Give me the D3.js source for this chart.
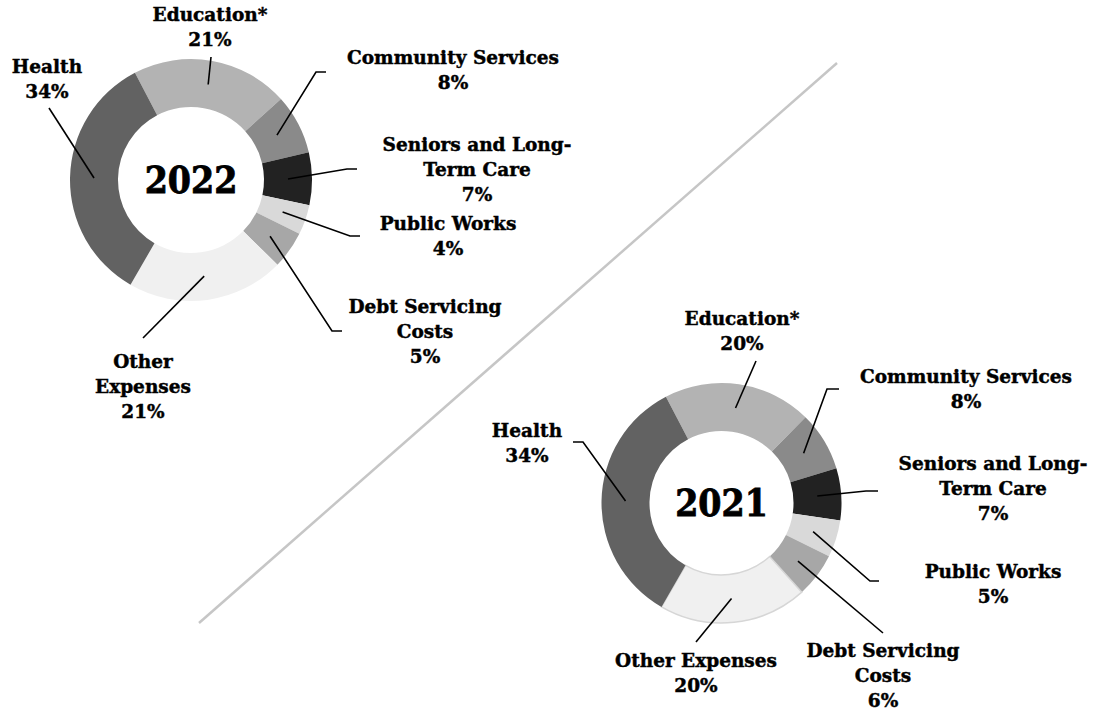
<!DOCTYPE html>
<html>
<head>
<meta charset="utf-8">
<script src="https://cdn.jsdelivr.net/npm/d3@7"></script>
<style>
  body { margin: 0; background: #fff; }
  svg text {
    font-family: "DejaVu Serif", serif;
    font-weight: bold;
    fill: #000;
    stroke: #000;
    stroke-width: 0.45px;
  }
  svg text.year {
    font-family: "DejaVu Serif Condensed", "DejaVu Serif", serif;
    font-stretch: condensed;
    stroke-width: 0.8px;
  }
</style>
</head>
<body>
<svg id="chart" width="1093" height="711"></svg>
<script>
// Spending categories, in the order the slices run clockwise
const categories = [
  "Education*",
  "Community Services",
  "Seniors and Long-Term Care",
  "Public Works",
  "Debt Servicing Costs",
  "Other Expenses",
  "Health"
];

// Share of total expenses (%)
const values2022 = [21, 8, 7, 4, 5, 21, 34];
const values2021 = [20, 8, 7, 5, 6, 20, 34];

const years = ["2022", "2021"];

// Greyscale fill for each category
const sliceColors = ["#b3b3b3", "#8a8a8a", "#222222", "#d9d9d9", "#a7a7a7", "#f0f0f0", "#626262"];

// How each category name wraps in its label
const labelLines2022 = [
  ["Education*"], ["Community Services"], ["Seniors and Long-", "Term Care"],
  ["Public Works"], ["Debt Servicing", "Costs"], ["Other", "Expenses"], ["Health"]
];
const labelLines2021 = [
  ["Education*"], ["Community Services"], ["Seniors and Long-", "Term Care"],
  ["Public Works"], ["Debt Servicing", "Costs"], ["Other Expenses"], ["Health"]
];

// Placement of each donut, its labels and leader-line bends
const layouts = {
  "2022": {
    cx: 191, cy: 180, rOuter: 121, rInner: 73,
    outline: false,
    labels: [
      { x: 210, y: 21,  path: [[211, 57]] },
      { x: 453, y: 64,  path: [[316, 72], [326, 72]] },
      { x: 477, y: 151, path: [[347, 169], [357, 169]] },
      { x: 448, y: 230, path: [[350, 236], [360, 236]] },
      { x: 425, y: 313, path: [[332, 331], [342, 331]] },
      { x: 143, y: 368, path: [[143, 338]] },
      { x: 47,  y: 73,  path: [[49, 108]] }
    ]
  },
  "2021": {
    cx: 721.5, cy: 503, rOuter: 120, rInner: 72,
    outline: true,
    labels: [
      { x: 742, y: 325, path: [[756, 361]] },
      { x: 966, y: 383, path: [[827, 389], [839, 389]] },
      { x: 993, y: 470, path: [[866, 491], [878, 491]] },
      { x: 993, y: 578, path: [[870, 581], [879, 581]] },
      { x: 883, y: 657, path: [[883, 633]] },
      { x: 696, y: 667, path: [[696, 642]] },
      { x: 527, y: 437, path: [[583, 442], [573, 442]] }
    ]
  }
};

const seriesByYear = { "2022": values2022, "2021": values2021 };
const linesByYear = { "2022": labelLines2022, "2021": labelLines2021 };

const svg = d3.select("#chart");

// Diagonal divider between the two years
svg.append("line")
  .attr("x1", 199).attr("y1", 623)
  .attr("x2", 837).attr("y2", 63)
  .attr("stroke", "#c6c6c6")
  .attr("stroke-width", 2.5);

const color = d3.scaleOrdinal().domain(categories).range(sliceColors);
const startAngle = -27.6 * Math.PI / 180;

const pie = d3.pie()
  .sort(null)
  .value(d => d.value)
  .startAngle(startAngle)
  .endAngle(startAngle + 2 * Math.PI);

years.forEach(year => {
  const L = layouts[year];
  const values = seriesByYear[year];
  const lines = linesByYear[year];
  const rows = categories.map((c, i) => ({ category: c, value: values[i], lines: lines[i], pos: L.labels[i] }));

  const arc = d3.arc().innerRadius(L.rInner).outerRadius(L.rOuter);
  const g = svg.append("g").attr("transform", `translate(${L.cx},${L.cy})`);
  const arcs = pie(rows);

  g.selectAll("path.slice")
    .data(arcs)
    .join("path")
    .attr("class", "slice")
    .attr("d", arc)
    .attr("fill", d => color(d.data.category))
    .attr("stroke", d => (L.outline && d.data.category === "Other Expenses") ? "#d6d6d6" : "none")
    .attr("stroke-width", 1.5);

  // Year in the hole
  g.append("text")
    .attr("class", "year")
    .attr("text-anchor", "middle")
    .attr("y", 13)
    .style("font-size", "37px")
    .text(year);

  // Leader lines from slice centre to the label
  const line = d3.line();
  svg.selectAll(null)
    .data(arcs)
    .join("path")
    .attr("d", d => {
      const c = arc.centroid(d);
      const pts = [[L.cx + c[0], L.cy + c[1]]].concat(d.data.pos.path);
      return line(pts);
    })
    .attr("fill", "none")
    .attr("stroke", "#000")
    .attr("stroke-width", 1.6);

  // Category labels with percentage
  const lbl = svg.selectAll(null)
    .data(arcs)
    .join("text")
    .attr("text-anchor", "middle")
    .style("font-size", "18.5px")
    .attr("x", d => d.data.pos.x)
    .attr("y", d => d.data.pos.y);

  lbl.each(function (d) {
    const t = d3.select(this);
    const all = d.data.lines.concat([`${d.data.value}%`]);
    all.forEach((s, k) => {
      t.append("tspan")
        .attr("x", d.data.pos.x)
        .attr("dy", k === 0 ? 0 : 25)
        .text(s);
    });
  });
});
</script>
</body>
</html>
